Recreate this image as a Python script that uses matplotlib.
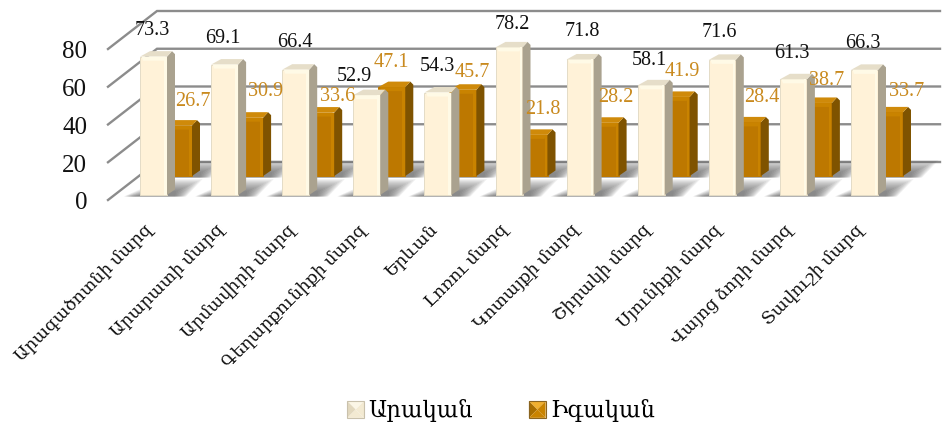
import matplotlib
matplotlib.use('Agg')
import matplotlib.pyplot as plt
from matplotlib.legend_handler import HandlerBase
from matplotlib.patches import Patch, Polygon
from matplotlib.transforms import ScaledTranslation

plt.rcParams['font.family'] = ['Liberation Serif', 'DejaVu Serif']

regions = ['Արագածոտնի մարզ', 'Արարատի մարզ', 'Արմավիրի մարզ', 'Գեղարքունիքի մարզ', 'Երևան',
           'Լոռու մարզ', 'Կոտայքի մարզ', 'Շիրակի մարզ', 'Սյունիքի մարզ', 'Վայոց ձորի մարզ', 'Տավուշի մարզ']
male = [73.3, 69.1, 66.4, 52.9, 54.3, 78.2, 71.8, 58.1, 71.6, 61.3, 66.3]
female = [26.7, 30.9, 33.6, 47.1, 45.7, 21.8, 28.2, 41.9, 28.4, 38.7, 33.7]
y_ticks = [0, 20, 40, 60, 80]
series_names = ['Արական', 'Իգական']

# масштаб в пикселях
W, H = 946, 427
PX_X = 71.1   # пикселей на категорию
PX_Y = 1.8875  # пикселей на единицу значения
AX_L, AX_R, AX_B, AX_T = 108, 940, 201, 11
TICK0 = 166

# смещения подписей в пикселях от левого верхнего угла столбца
male_off = [(12, 27), (12, 27), (13, 28), (1, 20), (13, 27), (17, 24), (16, 29), (12, 26), (11, 28), (12, 27), (12, 27)]
female_off = [(28, 25), (29, 27), (30, 17), (13, 26), (23, 18), (22, 26), (24, 26), (20, 26), (28, 26), (22, 23), (31, 22)]


def px(v):
    return v / PX_X


def py(v):
    return v / PX_Y


def shadow(ax, x, base, w, color='#444444'):
    # размытая тень на полу - несколько полупрозрачных слоев
    for g in range(12, 0, -1):
        pts = [(x - px(17 - g * 0.8), base - py(1.5)),
               (x + w + px(20 - g), base - py(1.5)),
               (x + w + px(38 - g * 2.4), base + py(17 - g * 1.1)),
               (x + px(22 + g), base + py(17 - g * 1.1))]
        ax.add_patch(Polygon(pts, closed=True, fc=color, ec='none', alpha=0.075, zorder=2))


def bar3d(ax, x, base, value, w, front, light, side, top, edge, z):
    t = base + value
    dx, dy = px(8), py(5.5)
    ax.bar(x, value, width=w, bottom=base, align='edge', color=front, edgecolor=edge, linewidth=0.7, zorder=z)
    # боковая грань
    ax.add_patch(Polygon([(x + w, base), (x + w + dx, base + dy), (x + w + dx, t + dy - py(3)),
                          (x + w + dx - px(3), t + dy), (x + w, t)],
                         closed=True, fc=side, ec='none', zorder=z))
    # верхняя грань
    ax.add_patch(Polygon([(x, t), (x + px(10), t + dy), (x + w + dx - px(3), t + dy), (x + w, t)],
                         closed=True, fc=top, ec='none', zorder=z))
    # фаска
    ax.add_patch(Polygon([(x + px(1.5), t), (x + w - px(1.5), t), (x + w - px(3), t - py(4)), (x + px(3), t - py(4))],
                         closed=True, fc=light, ec='none', zorder=z))
    ax.bar(x + w - px(3), value, width=px(2.5), bottom=base, align='edge', color=light, zorder=z)


class BevelHandler(HandlerBase):
    def __init__(self, c_face, c_top, c_left, c_edge):
        super().__init__()
        self.c = (c_face, c_top, c_left, c_edge)

    def create_artists(self, legend, orig, xd, yd, width, height, fontsize, trans):
        s = height * 1.05
        x0, y0 = width - s, -yd - s * 0.08
        mx, my = x0 + s / 2, y0 + s / 2
        a, b, c, d = (x0, y0), (x0 + s, y0), (x0 + s, y0 + s), (x0, y0 + s)
        m = (mx, my)
        tris = [([d, c, m], self.c[1]), ([d, a, m], self.c[2]), ([c, b, m], self.c[0]), ([a, b, m], self.c[0])]
        arts = [Polygon(p, closed=True, fc=col, ec='none', transform=trans) for p, col in tris]
        arts.append(Polygon([a, b, c, d], closed=True, fc='none', ec=self.c[3], lw=0.8, transform=trans))
        return arts


fig = plt.figure(figsize=(W / 100, H / 100), dpi=100)
ax = fig.add_axes([AX_L / W, (H - AX_B) / H, (AX_R - AX_L) / W, (AX_B - AX_T) / H])
ax.set_xlim((AX_L - TICK0) / PX_X, (AX_R - TICK0) / PX_X)
ax.set_ylim(0, (AX_B - AX_T) / PX_Y)
for s in ax.spines.values():
    s.set_visible(False)
ax.patch.set_alpha(0)

# сетка: боковая стенка и задняя стенка
x_min = ax.get_xlim()[0]
x_max = ax.get_xlim()[1]
for v in y_ticks:
    ax.plot([x_min, x_min + px(49), x_max], [v, v + py(38), v + py(38)], color='#8c8c8c', lw=1.7,
            solid_joinstyle='miter', clip_on=False, zorder=1)

bw = 27 / PX_X
x_male = [i - px(26) for i in range(len(regions))]
x_female = [x + px(25) for x in x_male]
base_m = py(5)
base_f = py(24)

for i in range(len(regions)):
    shadow(ax, x_female[i], base_f, bw)
    bar3d(ax, x_female[i], base_f, female[i], bw, '#bd7800', '#c98300', '#7f5300', '#cf8a0a', '#bd7800', 4)
for i in range(len(regions)):
    shadow(ax, x_male[i], base_m, bw)
    bar3d(ax, x_male[i], base_m, male[i], bw, '#fff2d8', '#fffae6', '#aaa28f', '#e6dec9', '#e4dcc6', 6)

for i in range(len(regions)):
    ax.annotate(f'{male[i]:.1f}', xy=(x_male[i], base_m + male[i]),
                xytext=(male_off[i][0] * 0.72, male_off[i][1] * 0.72), textcoords='offset points',
                ha='center', va='center', fontsize=14.5, color='#111111', zorder=8, annotation_clip=False)
    ax.annotate(f'{female[i]:.1f}', xy=(x_female[i], base_f + female[i]),
                xytext=(female_off[i][0] * 0.72, female_off[i][1] * 0.72), textcoords='offset points',
                ha='center', va='center', fontsize=14.5, color='#c98a1f', zorder=8, annotation_clip=False)

ax.set_yticks(y_ticks)
ax.tick_params(axis='y', length=0, pad=15, labelsize=18, labelcolor='#111111')
ax.set_xticks(range(len(regions)))
ax.set_xticklabels(regions, rotation=45, ha='right', va='top', rotation_mode='anchor', fontsize=12.6, color='#111111')
ax.tick_params(axis='x', length=0, pad=14)
shift = ScaledTranslation(-22 / 100, 0, fig.dpi_scale_trans)
for lab in ax.get_xticklabels():
    lab.set_transform(lab.get_transform() + shift)

handles = [Patch(label=series_names[0]), Patch(label=series_names[1])]
ax.legend(handles=handles, loc='center', bbox_to_anchor=(501 / W, (H - 411) / H), bbox_transform=fig.transFigure,
          ncol=2, frameon=False, fontsize=16.3, columnspacing=2.45, handletextpad=0.2, handlelength=0.75,
          handler_map={handles[0]: BevelHandler('#f3ead2', '#fbf6e6', '#e2d8be', '#c9c1ac'),
                       handles[1]: BevelHandler('#c98300', '#f0b030', '#a86e00', '#8a6420')})

fig.savefig('out.png', dpi=100)
